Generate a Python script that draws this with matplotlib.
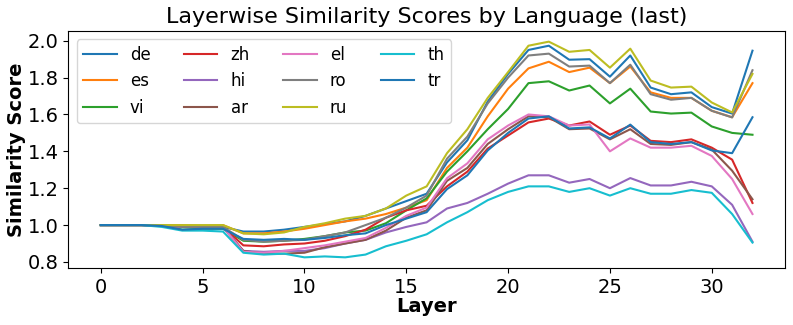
import numpy as np
import matplotlib
matplotlib.use("Agg")
import matplotlib.pyplot as plt

layers = list(range(33))

de = [1.0, 1.0, 1.0, 0.998, 0.99, 0.99, 0.99, 0.965, 0.965, 0.975, 0.99, 1.005, 1.02, 1.05, 1.09, 1.13, 1.17,
      1.34, 1.46, 1.67, 1.82, 1.95, 1.973, 1.897, 1.90, 1.805, 1.92, 1.746, 1.71, 1.72, 1.64, 1.605, 1.946]
es = [1.0, 1.0, 1.0, 1.0, 1.0, 0.995, 1.0, 0.955, 0.955, 0.965, 0.98, 1.0, 1.02, 1.035, 1.06, 1.095, 1.135,
      1.31, 1.42, 1.59, 1.74, 1.85, 1.886, 1.83, 1.854, 1.77, 1.86, 1.72, 1.69, 1.69, 1.62, 1.585, 1.77]
vi = [1.0, 1.0, 1.0, 0.995, 0.975, 0.98, 0.98, 0.915, 0.91, 0.915, 0.925, 0.94, 0.96, 0.97, 1.01, 1.08, 1.145,
      1.29, 1.40, 1.52, 1.63, 1.77, 1.78, 1.73, 1.757, 1.66, 1.74, 1.616, 1.605, 1.61, 1.535, 1.50, 1.49]
zh = [1.0, 1.0, 1.0, 0.995, 0.99, 0.99, 0.99, 0.89, 0.885, 0.895, 0.90, 0.915, 0.94, 0.975, 1.04, 1.08, 1.105,
      1.21, 1.29, 1.415, 1.486, 1.557, 1.578, 1.54, 1.562, 1.49, 1.54, 1.457, 1.45, 1.465, 1.42, 1.355, 1.12]
hi = [1.0, 1.0, 1.0, 0.998, 0.99, 0.99, 0.99, 0.86, 0.855, 0.86, 0.86, 0.875, 0.90, 0.92, 0.96, 0.99, 1.015,
      1.09, 1.12, 1.17, 1.225, 1.27, 1.27, 1.23, 1.25, 1.20, 1.255, 1.215, 1.215, 1.235, 1.21, 1.11, 0.91]
ar = [1.0, 1.0, 1.0, 0.998, 0.99, 0.99, 0.99, 0.86, 0.845, 0.845, 0.85, 0.88, 0.90, 0.92, 0.97, 1.04, 1.08,
      1.24, 1.31, 1.44, 1.52, 1.59, 1.585, 1.52, 1.524, 1.465, 1.52, 1.44, 1.435, 1.45, 1.41, 1.295, 1.14]
el = [1.0, 1.0, 1.0, 0.995, 0.99, 0.99, 0.99, 0.855, 0.85, 0.86, 0.875, 0.89, 0.91, 0.93, 0.985, 1.05, 1.095,
      1.254, 1.335, 1.465, 1.54, 1.60, 1.59, 1.54, 1.546, 1.40, 1.47, 1.42, 1.42, 1.43, 1.375, 1.25, 1.06]
ro = [1.0, 1.0, 1.0, 0.998, 0.99, 0.99, 0.99, 0.92, 0.91, 0.915, 0.92, 0.94, 0.96, 1.0, 1.04, 1.095, 1.16,
      1.36, 1.48, 1.66, 1.80, 1.92, 1.93, 1.86, 1.865, 1.77, 1.87, 1.71, 1.68, 1.69, 1.62, 1.584, 1.84]
ru = [1.0, 1.0, 1.0, 1.0, 1.0, 1.0, 1.0, 0.955, 0.95, 0.96, 0.99, 1.01, 1.035, 1.05, 1.09, 1.16, 1.21,
      1.39, 1.52, 1.69, 1.83, 1.973, 1.995, 1.94, 1.95, 1.854, 1.957, 1.784, 1.746, 1.751, 1.665, 1.611, 1.82]
th = [1.0, 1.0, 1.0, 0.99, 0.97, 0.97, 0.965, 0.85, 0.84, 0.845, 0.825, 0.83, 0.825, 0.84, 0.885, 0.915, 0.95,
      1.015, 1.07, 1.135, 1.18, 1.21, 1.21, 1.18, 1.20, 1.16, 1.20, 1.17, 1.17, 1.19, 1.175, 1.06, 0.905]
tr = [1.0, 1.0, 1.0, 0.995, 0.975, 0.98, 0.98, 0.925, 0.92, 0.925, 0.92, 0.93, 0.945, 0.955, 1.0, 1.035, 1.07,
      1.195, 1.27, 1.405, 1.50, 1.578, 1.59, 1.524, 1.53, 1.47, 1.545, 1.45, 1.44, 1.45, 1.405, 1.39, 1.585]

langs = ["de", "es", "vi", "zh", "hi", "ar", "el", "ro", "ru", "th", "tr"]
series = [de, es, vi, zh, hi, ar, el, ro, ru, th, tr]

fig = plt.figure(figsize=(7.93, 3.25), dpi=100)
ax = fig.add_axes([0.086, 0.175, 0.904, 0.73])

for name, vals in zip(langs, series):
    ax.plot(layers, vals, label=name, linewidth=1.5)

ax.set_title("Layerwise Similarity Scores by Language (last)", fontsize=16)
ax.set_xlabel("Layer", fontsize=14, fontweight="bold", labelpad=0)
ax.set_ylabel("Similarity Score", fontsize=14, fontweight="bold", labelpad=1)
ax.tick_params(axis="both", labelsize=14)
ax.set_yticks([0.8, 1.0, 1.2, 1.4, 1.6, 1.8, 2.0])
ax.legend(ncol=4, fontsize=12, loc="upper left", handlelength=2.0, columnspacing=2.0)

fig.savefig("out.png", dpi=100)
